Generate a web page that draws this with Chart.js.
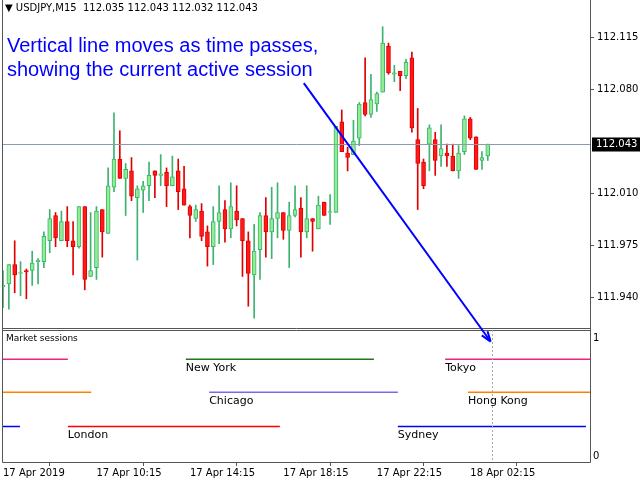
<!DOCTYPE html>
<html>
<head>
<meta charset="utf-8">
<script src="https://cdn.jsdelivr.net/npm/chart.js@4"></script>
<style>
	body { margin: 0; background: #fff; }
	#chart { display: block; }
</style>
</head>
<body>
<canvas id="chart" width="640" height="480"></canvas>
<script>
// USDJPY M15 candles, 17 Apr 2019 06:15 onwards
var opens = [111.947, 111.949, 111.962, 111.956, 111.958, 111.958, 111.964, 111.964, 111.978, 111.995, 111.978, 111.991, 111.978, 111.974, 112.001, 111.954, 111.960, 111.999, 111.983, 112.014, 112.033, 112.020, 112.025, 112.007, 112.012, 112.015, 112.025, 112.022, 112.024, 112.015, 112.025, 112.013, 112.001, 111.993, 111.998, 111.984, 111.974, 111.991, 111.999, 111.986, 111.998, 111.993, 111.978, 111.955, 111.972, 111.995, 111.984, 111.993, 111.997, 111.985, 111.995, 112.000, 111.984, 111.993, 111.986, 112.004, 111.997, 111.997, 112.058, 112.037, 112.036, 112.047, 112.071, 112.063, 112.070, 112.078, 112.109, 112.090, 112.092, 112.089, 112.101, 112.046, 112.031, 112.043, 112.046, 112.035, 112.037, 112.035, 112.025, 112.038, 112.060, 112.048, 112.032, 112.035];
var highs = [111.958, 111.962, 111.978, 111.964, 111.959, 111.971, 111.966, 111.984, 111.999, 111.997, 111.998, 112.001, 111.991, 112.001, 112.001, 111.997, 112.001, 111.999, 112.027, 112.064, 112.052, 112.030, 112.034, 112.015, 112.018, 112.031, 112.025, 112.036, 112.027, 112.035, 112.033, 112.028, 112.002, 112.002, 112.003, 111.988, 112.001, 112.015, 112.005, 112.017, 112.015, 111.993, 111.984, 111.989, 111.997, 112.007, 112.014, 112.017, 111.997, 112.004, 112.015, 112.007, 112.015, 111.993, 112.008, 112.004, 112.009, 112.055, 112.066, 112.041, 112.059, 112.071, 112.101, 112.090, 112.078, 112.122, 112.111, 112.096, 112.092, 112.100, 112.105, 112.067, 112.033, 112.056, 112.051, 112.056, 112.043, 112.043, 112.042, 112.062, 112.061, 112.048, 112.038, 112.043];
var lows = [111.933, 111.932, 111.943, 111.941, 111.939, 111.948, 111.949, 111.960, 111.970, 111.974, 111.978, 111.974, 111.955, 111.973, 111.945, 111.954, 111.952, 111.967, 111.983, 112.011, 112.020, 111.995, 112.005, 111.965, 111.997, 112.005, 112.007, 112.015, 112.001, 112.015, 111.999, 112.002, 111.980, 111.991, 111.978, 111.961, 111.962, 111.976, 111.977, 111.980, 111.988, 111.954, 111.934, 111.926, 111.952, 111.967, 111.966, 111.980, 111.979, 111.960, 111.994, 111.967, 111.980, 111.971, 111.986, 111.995, 111.989, 111.997, 112.038, 112.025, 112.036, 112.042, 112.062, 112.061, 112.065, 112.078, 112.090, 112.085, 112.079, 112.087, 112.051, 111.999, 112.013, 112.025, 112.022, 112.028, 112.028, 112.025, 112.020, 112.036, 112.046, 112.026, 112.026, 112.032];
var closes = [111.948, 111.962, 111.955, 111.956, 111.957, 111.963, 111.965, 111.981, 111.993, 111.980, 111.991, 111.978, 111.974, 112.001, 111.952, 111.958, 111.998, 111.984, 112.015, 112.033, 112.020, 112.026, 112.008, 112.013, 112.015, 112.022, 112.022, 112.023, 112.015, 112.021, 112.011, 112.002, 111.995, 111.999, 111.981, 111.974, 111.991, 111.997, 111.986, 112.001, 111.992, 111.978, 111.956, 111.971, 111.995, 111.984, 111.993, 111.997, 111.985, 111.995, 111.999, 111.984, 111.993, 111.991, 112.002, 111.995, 111.997, 112.055, 112.038, 112.034, 112.045, 112.070, 112.063, 112.073, 112.077, 112.111, 112.091, 112.091, 112.089, 112.098, 112.054, 112.030, 112.015, 112.054, 112.032, 112.040, 112.035, 112.025, 112.037, 112.060, 112.047, 112.026, 112.034, 112.043];

var priceTicks = [111.940, 111.975, 112.010, 112.080, 112.115];
var lastPrice = 112.043;
var timeTicks = [0, 16, 32, 48, 64, 80];
var timeLabels = ['17 Apr 2019', '17 Apr 10:15', '17 Apr 14:15', '17 Apr 18:15', '17 Apr 22:15', '18 Apr 02:15'];

// market sessions: [start, end] in candle index
var sessionNames = ['Tokyo', 'New York', 'Hong Kong', 'Chicago', 'Sydney', 'London'];
var sessionColors = ['#f0208a', '#1a7a1a', '#ff8000', '#7b68ee', '#0000ff', '#ff0000'];
var sessionLevels = [0.82, 0.82, 0.54, 0.54, 0.25, 0.25];
var sessionRanges = [
	[[0, 11.1], [75.7, 100.5]],
	[[31.3, 63.5]],
	[[0, 15.1], [79.6, 100.5]],
	[[35.3, 67.6]],
	[[0, 2.9], [67.6, 99.8]],
	[[11.1, 47.4]]
];
var nowIndex = 83.7;

var UP_FILL = '#90ee90', UP_LINE = '#3cb371', DN_FILL = '#ff1a1a', DN_LINE = '#e00000';
var FONT = 'DejaVu Sans';

var bodies = [], wicks = [], bodyFill = [], bodyLine = [];
for ( var i = 0; i < opens.length; i++ ) {
	var up = closes[i] >= opens[i];
	var lo = Math.min( opens[i], closes[i] ), hi = Math.max( opens[i], closes[i] );
	if ( hi - lo < 0.0006 ) hi = lo + 0.0006;
	bodies.push( { x: i, y: [lo, hi] } );
	wicks.push( { x: i, y: [lows[i], highs[i]] } );
	bodyFill.push( up ? UP_FILL : DN_FILL );
	bodyLine.push( up ? UP_LINE : DN_LINE );
}

var datasets = [
	{ type: 'bar', data: wicks, yAxisID: 'y', backgroundColor: bodyLine, barThickness: 1, grouped: false, order: 2 },
	{ type: 'bar', data: bodies, yAxisID: 'y', backgroundColor: bodyFill, borderColor: bodyLine, borderWidth: 1, borderSkipped: false, barThickness: 4, grouped: false, order: 1 }
];

sessionNames.forEach( function( name, s ) {
	var pts = [];
	sessionRanges[s].forEach( function( r ) {
		pts.push( { x: r[0], y: sessionLevels[s] }, { x: r[1], y: sessionLevels[s] }, { x: r[1], y: null } );
	} );
	datasets.push( { type: 'line', data: pts, yAxisID: 'y2', borderColor: sessionColors[s], borderWidth: 1.5, pointRadius: 0, spanGaps: false, order: 0 } );
} );

var overlay = {
	id: 'overlay',
	afterDraw: function( chart ) {
		var ctx = chart.ctx, a = chart.chartArea, x = chart.scales.x, y = chart.scales.y, y2 = chart.scales.y2;
		ctx.save();

		// panel borders (top edge is off-picture in the terminal)
		ctx.strokeStyle = '#555';
		ctx.lineWidth = 1;
		ctx.beginPath();
		ctx.moveTo( a.left - 0.5, 0 ); ctx.lineTo( a.left - 0.5, a.bottom + 0.5 );
		ctx.lineTo( a.right + 0.5, a.bottom + 0.5 ); ctx.lineTo( a.right + 0.5, 0 );
		ctx.moveTo( a.left, y.bottom + 0.5 ); ctx.lineTo( a.right, y.bottom + 0.5 );
		ctx.moveTo( a.left, y.bottom - 1.5 ); ctx.lineTo( a.right, y.bottom - 1.5 );
		ctx.stroke();

		// current price line and box
		var py = Math.round( y.getPixelForValue( lastPrice ) ) + 0.5;
		ctx.strokeStyle = '#8a9bab';
		ctx.beginPath(); ctx.moveTo( a.left, py ); ctx.lineTo( a.right, py ); ctx.stroke();
		ctx.fillStyle = '#000';
		ctx.fillRect( a.right + 2, py - 7, 50, 14 );
		ctx.fillStyle = '#fff';
		ctx.font = '10px ' + FONT;
		ctx.textBaseline = 'middle';
		ctx.fillText( lastPrice.toFixed( 3 ), a.right + 6, py );

		// header
		ctx.fillStyle = '#000';
		ctx.font = '10px ' + FONT;
		ctx.fillText( '▼ USDJPY,M15  112.035 112.043 112.032 112.043', 5, 8 );

		// note text
		ctx.fillStyle = '#0000ff';
		ctx.font = '20px "Liberation Sans"';
		ctx.fillText( 'Vertical line moves as time passes,', 7, 46 );
		ctx.fillText( 'showing the current active session', 7, 70 );

		// now line in sessions panel
		var nx = Math.round( x.getPixelForValue( nowIndex ) ) + 0.5;
		ctx.strokeStyle = '#aaa';
		ctx.setLineDash( [2, 2] );
		ctx.beginPath(); ctx.moveTo( nx, y2.top ); ctx.lineTo( nx, y2.bottom ); ctx.stroke();
		ctx.setLineDash( [] );

		// arrow
		var sx = x.getPixelForValue( 51.5 ), sy = y.getPixelForValue( 112.084 );
		var ex = nx - 3, ey = y2.top + 10;
		ctx.strokeStyle = '#0000ff';
		ctx.lineWidth = 2;
		ctx.beginPath(); ctx.moveTo( sx, sy ); ctx.lineTo( ex, ey ); ctx.stroke();
		var ang = Math.atan2( ey - sy, ex - sx );
		ctx.beginPath();
		ctx.moveTo( ex + 2 * Math.cos( ang ), ey + 2 * Math.sin( ang ) );
		ctx.lineTo( ex - 9 * Math.cos( ang - 0.4 ), ey - 9 * Math.sin( ang - 0.4 ) );
		ctx.moveTo( ex + 2 * Math.cos( ang ), ey + 2 * Math.sin( ang ) );
		ctx.lineTo( ex - 9 * Math.cos( ang + 0.4 ), ey - 9 * Math.sin( ang + 0.4 ) );
		ctx.stroke();

		// sessions panel labels
		ctx.fillStyle = '#000';
		ctx.font = '9px ' + FONT;
		ctx.fillText( 'Market sessions', a.left + 3, y2.top + 9 );
		ctx.font = '11px ' + FONT;
		sessionNames.forEach( function( name, s ) {
			var r = sessionRanges[s][sessionRanges[s].length - 1];
			var lx = x.getPixelForValue( r[0] ), ly = y2.getPixelForValue( sessionLevels[s] );
			ctx.fillText( name, lx, ly + 9 );
		} );

		ctx.restore();
	}
};

new Chart( document.getElementById( 'chart' ).getContext( '2d' ), {
	data: { datasets: datasets },
	options: {
		responsive: false,
		animation: false,
		layout: { padding: { left: 3, top: 0, right: 0, bottom: 0 } },
		plugins: { legend: { display: false }, tooltip: { enabled: false } },
		scales: {
			x: {
				type: 'linear', min: 0, max: 100.5, offset: false,
				afterBuildTicks: function( axis ) {
					axis.ticks = timeTicks.map( function( v ) { return { value: v }; } );
				},
				ticks: {
					autoSkip: false, maxRotation: 0, align: 'start', padding: 1,
					font: { family: FONT, size: 10 }, color: '#000',
					callback: function( v ) { return timeLabels[timeTicks.indexOf( v )]; }
				},
				grid: { drawOnChartArea: false, tickLength: 4, color: '#555' },
				border: { display: false }
			},
			y: {
				position: 'right', stack: 'panes', stackWeight: 321,
				min: 111.918, max: 112.1339,
				afterBuildTicks: function( axis ) {
					axis.ticks = priceTicks.map( function( v ) { return { value: v }; } );
				},
				ticks: { font: { family: FONT, size: 10 }, color: '#000', padding: 3, callback: function( v ) { return v.toFixed( 3 ); } },
				grid: { drawOnChartArea: false, tickLength: 4, color: '#555' },
				border: { display: false },
				afterFit: function( axis ) { axis.width = 50; }
			},
			y2: {
				position: 'right', stack: 'panes', stackWeight: 132,
				min: -0.05, max: 1.068,
				afterBuildTicks: function( axis ) {
					axis.ticks = [{ value: 0 }, { value: 1 }];
				},
				ticks: { font: { family: FONT, size: 10 }, color: '#000', padding: 3 },
				grid: { drawOnChartArea: false, drawTicks: false },
				border: { display: false },
				afterFit: function( axis ) { axis.width = 50; }
			}
		}
	},
	plugins: [overlay]
} );
</script>
</body>
</html>
